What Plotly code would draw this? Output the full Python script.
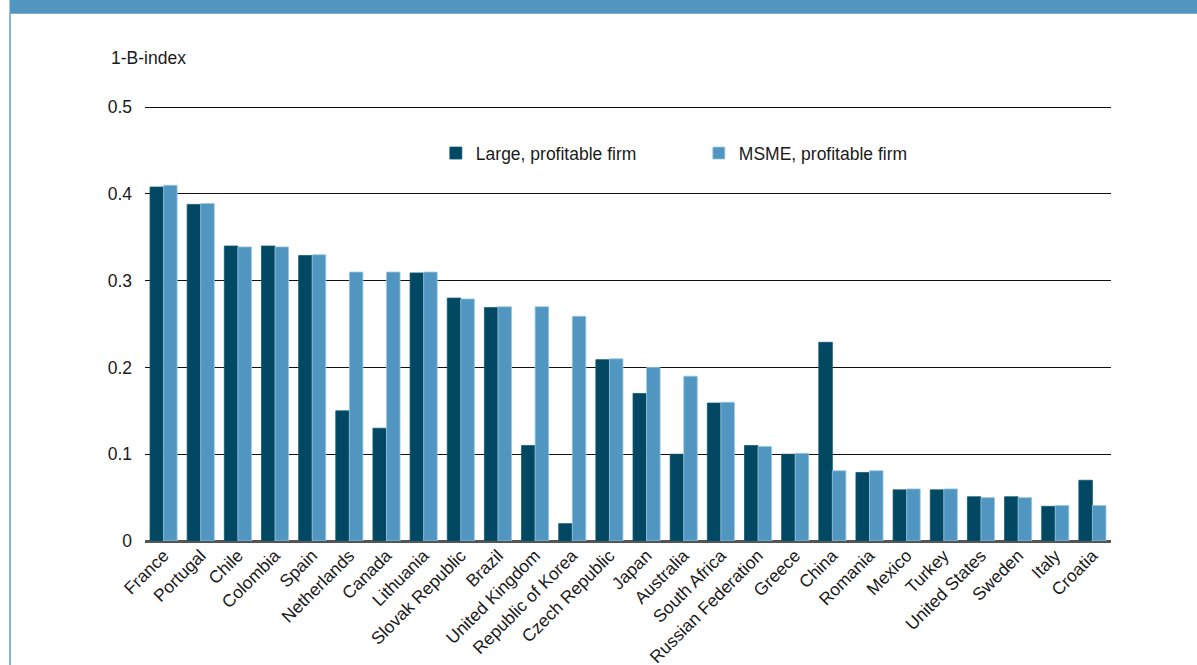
import plotly.graph_objects as go

countries = ["France", "Portugal", "Chile", "Colombia", "Spain", "Netherlands", "Canada",
             "Lithuania", "Slovak Republic", "Brazil", "United Kingdom", "Republic of Korea",
             "Czech Republic", "Japan", "Australia", "South Africa", "Russian Federation",
             "Greece", "China", "Romania", "Mexico", "Turkey", "United States", "Sweden",
             "Italy", "Croatia"]
large_firm = [0.408, 0.388, 0.34, 0.34, 0.329, 0.15, 0.13, 0.309, 0.28, 0.269, 0.11, 0.02,
              0.209, 0.17, 0.10, 0.159, 0.11, 0.10, 0.229, 0.079, 0.059, 0.059, 0.051, 0.051,
              0.04, 0.07]
msme_firm = [0.41, 0.389, 0.339, 0.339, 0.33, 0.31, 0.31, 0.31, 0.279, 0.27, 0.27, 0.259,
             0.21, 0.20, 0.19, 0.16, 0.109, 0.101, 0.081, 0.081, 0.06, 0.06, 0.05, 0.05,
             0.041, 0.041]
y_ticks = [0, 0.1, 0.2, 0.3, 0.4, 0.5]
y_tick_text = ["0", "0.1", "0.2", "0.3", "0.4", "0.5"]

DARK = "#024862"
LIGHT = "#5096C1"
FONT = "Liberation Sans, Arial, sans-serif"
FS = 17.5

fig = go.Figure()
fig.add_trace(go.Bar(x=countries, y=large_firm, name="Large, profitable firm",
                     marker=dict(color=DARK, line=dict(color="#0d5a76", width=0.8))))
fig.add_trace(go.Bar(x=countries, y=msme_firm, name="MSME, profitable firm",
                     marker=dict(color=LIGHT, line=dict(color="#9cc8e2", width=0.8))))

W, H = 1197, 665
YMAX = 0.506
L, R, B = 145.4, 1110.6, 541
T = B - 434 * YMAX / 0.5
pw, ph = R - L, B - T

def px(x):
    return (x - L) / pw

def py(y):
    return (B - y) / ph

fig.update_layout(
    width=W, height=H, autosize=False,
    margin=dict(l=L, r=W - R, t=T, b=H - B, pad=0, autoexpand=False),
    paper_bgcolor="white", plot_bgcolor="white",
    font=dict(family=FONT, size=FS, color="#1a1a1a"),
    barmode="group", bargap=0.27, bargroupgap=0.0,
    showlegend=True,
    legend=dict(orientation="h", x=px(436), y=py(153), xanchor="left", yanchor="middle",
                font=dict(family=FONT, size=FS, color="#1a1a1a"),
                entrywidth=218, entrywidthmode="pixels", bgcolor="rgba(0,0,0,0)",
                itemclick=False),
    xaxis=dict(range=[-0.5, 25.5], tickangle=-45, showgrid=False, showline=False,
               ticks="", automargin=False,
               tickfont=dict(family=FONT, size=FS, color="#1a1a1a")),
    yaxis=dict(range=[0, YMAX], tickvals=y_ticks, ticktext=y_tick_text,
               showgrid=True, gridcolor="#111111", gridwidth=1.2,
               zeroline=True, zerolinecolor="#555555", zerolinewidth=2.5,
               showline=False, ticks="", ticklabelstandoff=12, automargin=False,
               tickfont=dict(family=FONT, size=FS, color="#1a1a1a")),
    shapes=[
        dict(type="rect", xref="paper", yref="paper", x0=px(10), x1=px(W + 5),
             y0=py(13.5), y1=py(-5), fillcolor="#5096C0", line=dict(width=0), layer="above"),
        dict(type="line", xref="paper", yref="paper", x0=px(10.5), x1=px(10.5),
             y0=py(13), y1=py(H + 5), line=dict(color="#7fb6d8", width=2)),
    ],
    annotations=[
        dict(text="1-B-index", xref="paper", yref="paper", x=px(109), y=py(58),
             xanchor="left", yanchor="middle", showarrow=False,
             font=dict(family=FONT, size=FS, color="#1a1a1a")),
    ],
)

fig.write_html("out.html", config={"displayModeBar": False},
               post_script="document.body.style.margin='0px';")
